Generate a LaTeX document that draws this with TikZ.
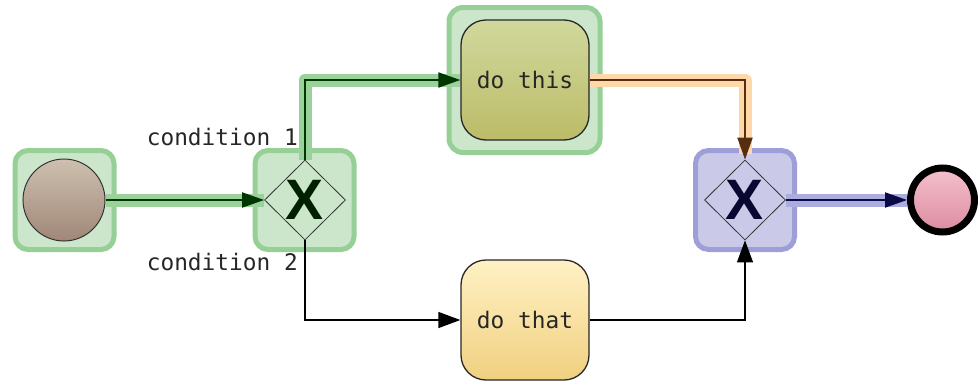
\documentclass[tikz,border=0pt]{standalone}
\usepackage{fontspec}
\setmonofont{DejaVu Sans Mono}
\newfontfamily\gwfont{Liberation Sans}
\usetikzlibrary{shapes.geometric,arrows.meta}

\definecolor{hlgreenfill}{RGB}{204,230,204}
\definecolor{hlgreenline}{RGB}{150,208,150}
\definecolor{hlbluefill}{RGB}{202,202,232}
\definecolor{hlblueline}{RGB}{158,158,216}
\definecolor{bandgreen}{RGB}{155,210,155}
\definecolor{bandorange}{RGB}{255,216,170}
\definecolor{bandblue}{RGB}{172,172,222}
\definecolor{arrgreen}{RGB}{0,55,0}
\definecolor{arrbrown}{RGB}{85,45,15}
\definecolor{arrnavy}{RGB}{10,10,70}

\begin{document}
\begin{tikzpicture}[
    x=1pt, y=-1pt,
    hl_box/.style={line width=5pt, rounded corners=13pt, minimum width=99pt, minimum height=99pt, inner sep=0pt},
    task_style/.style={draw=black!85, line width=1.3pt, rounded corners=25pt, minimum width=128pt, minimum height=120pt,
        font=\ttfamily\fontsize{22.8}{27}\selectfont, text=black!85},
    gw_style/.style={diamond, draw=black!80, line width=0.8pt, minimum width=81pt, minimum height=80pt, inner sep=0pt},
    gw_mark/.style={font=\gwfont\bfseries\fontsize{57}{57}\selectfont, inner sep=0pt},
    cond_label/.style={font=\ttfamily\fontsize{22.8}{27}\selectfont, text=black!85, anchor=east, inner sep=0pt},
    band/.style={line width=13pt, line join=round},
    flow/.style={-{Triangle[length=22pt, width=15pt]}, line width=2pt},
    flow_plain/.style={-{Triangle[length=22pt, width=16pt]}, line width=1.3pt, black}
]
\useasboundingbox (0,0) rectangle (978,383);

% ===== Highlight boxes =====
\node[hl_box, fill=hlgreenfill, draw=hlgreenline] (hlstart) at (64.5,200) {};
\node[hl_box, fill=hlgreenfill, draw=hlgreenline] (hlgw1) at (304.5,200) {};
\node[hl_box, fill=hlgreenfill, draw=hlgreenline, minimum width=151pt, minimum height=145pt, rounded corners=14pt] (hltask1) at (524.5,80) {};
\node[hl_box, fill=hlbluefill, draw=hlblueline] (hlgw2) at (745,200) {};

% ===== Events =====
\node[circle, draw=black!80, line width=1pt, minimum size=82pt, inner sep=0pt,
      top color={rgb,255:red,205;green,192;blue,175}, bottom color={rgb,255:red,160;green,135;blue,120}] (start) at (64,200) {};
\node[circle, draw=black, line width=7pt, minimum size=64pt, inner sep=0pt,
      top color={rgb,255:red,245;green,192;blue,204}, bottom color={rgb,255:red,220;green,140;blue,160}] (end) at (942.5,200) {};

% ===== Gateways =====
\node[gw_style] (gw1) at (305,200) {};
\node[gw_mark, text=arrgreen!60!black] (gw1x) at (gw1) {X};
\node[gw_style] (gw2) at (745,200) {};
\node[gw_mark, text=arrnavy!70!black] (gw2x) at (gw2) {X};

% ===== Tasks =====
\node[task_style, top color={rgb,255:red,208;green,216;blue,156}, bottom color={rgb,255:red,188;green,188;blue,104}] (task1) at (525,80) {do this};
\node[task_style, top color={rgb,255:red,255;green,241;blue,196}, bottom color={rgb,255:red,240;green,208;blue,128}] (task2) at (525,320) {do that};

% ===== Condition labels =====
\node[cond_label] (cond1) at (298,137) {condition 1};
\node[cond_label] (cond2) at (298,262) {condition 2};

% ===== Highlight bands =====
\draw[band, draw=bandgreen] (start.east) -- (gw1.west);
\draw[band, draw=bandgreen] (gw1.north) |- (task1.west);
\draw[band, draw=bandorange, shorten >=6pt] (task1.east) -| (gw2.north);
\draw[band, draw=bandblue] (gw2.east) -- (end.west);

% ===== Sequence flows =====
\draw[flow, arrgreen] (start.east) -- (gw1.west);
\draw[flow, arrgreen] (gw1.north) |- (task1.west);
\draw[flow, arrbrown] (task1.east) -| (gw2.north);
\draw[flow_plain] (gw1.south) |- (task2.west);
\draw[flow_plain] (task2.east) -| (gw2.south);
\draw[flow, arrnavy] (gw2.east) -- (end.west);

\end{tikzpicture}
\end{document}
